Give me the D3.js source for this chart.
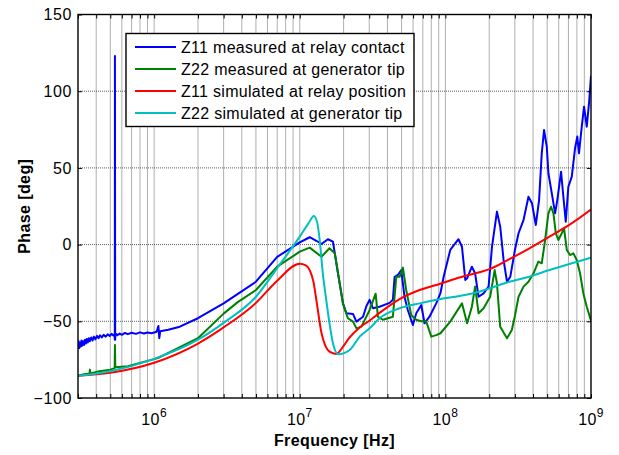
<!DOCTYPE html>
<html>
<head>
<meta charset="utf-8">
<script src="https://cdn.jsdelivr.net/npm/d3@7"></script>
<style>
  body { margin: 0; background: #fff; }
  text { font-family: "Liberation Sans", Arial, sans-serif; }
</style>
</head>
<body>
<svg id="chart" width="619" height="455"></svg>
<script>
// axis setup
const xDomain = [3e5, 1e9]
const yDomain = [-100, 150]
const yTicks = [-100, -50, 0, 50, 100, 150]
const xLabelled = [1e6, 1e7, 1e8, 1e9]

const seriesNames = [
  'Z11 measured at relay contact',
  'Z22 measured at generator tip',
  'Z11 simulated at relay position',
  'Z22 simulated at generator tip'
]
const seriesColors = ['#0000ff', '#008000', '#ff0000', '#00bfbf']

// [frequency Hz, phase deg]
const z11Measured = [
  [3.0e5, -66], [3.03e5, -63], [3.06e5, -67.5], [3.1e5, -64], [3.13e5, -66.5], [3.17e5, -62.5],
  [3.2e5, -66], [3.25e5, -63], [3.3e5, -65.5], [3.35e5, -62], [3.4e5, -64.5], [3.45e5, -61.5],
  [3.5e5, -63.8], [3.56e5, -61], [3.62e5, -63], [3.7e5, -60.5], [3.78e5, -62.5], [3.86e5, -60],
  [3.95e5, -61.8], [4.05e5, -59.5], [4.15e5, -61], [4.25e5, -59.2], [4.37e5, -60.5], [4.5e5, -58.8],
  [4.65e5, -60], [4.8e5, -58.5], [4.95e5, -59.6], [5.1e5, -58.2], [5.25e5, -59.2], [5.35e5, -58.5],
  [5.37e5, -62], [5.38e5, 123], [5.40e5, -62], [5.43e5, -58], [5.6e5, -59], [5.8e5, -58],
  [6.0e5, -58.8], [6.3e5, -57.6], [6.6e5, -58.4], [7.0e5, -57.5], [7.5e5, -58.2], [8.0e5, -57.2],
  [8.5e5, -57.9], [9.0e5, -57.3], [9.6e5, -57.8],
  [1.04e6, -56.8], [1.07e6, -53], [1.085e6, -61], [1.1e6, -56.5], [1.25e6, -55.5], [1.5e6, -53.5],
  [2e6, -48], [3e6, -38.3], [5e6, -24.2], [7e6, -8], [1e7, 1.5], [1.17e7, 4.8], [1.3e7, 2.5],
  [1.41e7, 0.4], [1.56e7, 3.5], [1.69e7, 1.9], [1.83e7, -18.7], [1.98e7, -38.3], [2.09e7, -44.8],
  [2.32e7, -45.2], [2.45e7, -50.2], [2.72e7, -47], [2.87e7, -40], [3.02e7, -36], [3.18e7, -41.5],
  [3.53e7, -40.5], [4.14e7, -38], [4.36e7, -36], [4.48e7, -21], [4.72e7, -19.8], [4.98e7, -16.6],
  [5.24e7, -34], [5.52e7, -42.6], [5.98e7, -52.4], [6.31e7, -44.8], [6.83e7, -39.4], [7.19e7, -51.3],
  [7.78e7, -47], [8.65e7, -38.3], [9.25e7, -31.7], [9.73e7, -21], [1.08e8, -3.5], [1.23e8, 3.5],
  [1.3e8, -1.4], [1.37e8, -23], [1.41e8, -22], [1.52e8, -14.4], [1.6e8, -18.7], [1.69e8, -34],
  [1.83e8, -31.8], [1.98e8, -27.4], [2.09e8, -1.4], [2.26e8, 21.5], [2.38e8, 11.7], [2.51e8, -10],
  [2.65e8, -24.2], [2.79e8, -21], [3.01e8, -3], [3.18e8, 7.4], [3.44e8, 16], [3.72e8, 31.2],
  [3.93e8, 27], [4.18e8, 12.8], [4.4e8, 29], [4.59e8, 59.5], [4.76e8, 74.7], [4.97e8, 63.8],
  [5.1e8, 46.5], [5.38e8, 33.4], [5.67e8, 20.4], [5.87e8, 29], [6.23e8, 47.5], [6.46e8, 31.2],
  [6.71e8, 14.9], [6.99e8, 37.7], [7.38e8, 44.3], [7.77e8, 62.8], [8.05e8, 70.4], [8.27e8, 59.5],
  [8.64e8, 76.9], [8.96e8, 89.9], [9.35e8, 76.9], [9.69e8, 92], [1e9, 110]
]

const z22Measured = [
  [3.0e5, -85.5], [3.3e5, -84.5], [3.6e5, -84], [3.62e5, -81.5], [3.65e5, -84], [4.2e5, -82.5],
  [5.0e5, -81.5], [5.36e5, -80.5], [5.38e5, -65.5], [5.41e5, -80], [6.6e5, -79.3], [1.06e6, -74],
  [2e6, -61], [3e6, -45], [3.75e6, -37.5], [5e6, -29.6], [7e6, -14.4], [1e7, -4.6], [1.17e7, -2],
  [1.41e7, -7.9], [1.6e7, -2.4], [1.74e7, -5.7], [1.88e7, -25.2], [1.98e7, -38.3], [2.14e7, -48],
  [2.32e7, -50.2], [2.45e7, -54.6], [2.65e7, -53.5], [3.02e7, -42.6], [3.32e7, -32], [3.44e7, -47],
  [3.72e7, -49], [4.03e7, -48], [4.36e7, -47], [4.6e7, -21], [4.85e7, -21], [5.11e7, -15],
  [5.38e7, -29.6], [5.83e7, -46], [6.31e7, -49], [6.83e7, -50], [7.38e7, -50], [8.0e7, -60],
  [8.65e7, -59], [9.25e7, -57.8], [1.08e8, -50.2], [1.3e8, -38.3], [1.41e8, -51.3], [1.52e8, -40.5],
  [1.6e8, -27.4], [1.69e8, -44.8], [1.83e8, -41.5], [2.03e8, -34], [2.18e8, -16.6], [2.26e8, -25.2],
  [2.38e8, -53.5], [2.65e8, -61], [2.86e8, -55.7], [3.01e8, -46], [3.18e8, -34], [3.44e8, -27.4],
  [3.72e8, -24.2], [4.03e8, -18.7], [4.35e8, -11.1], [4.59e8, -12.2], [4.84e8, 3], [5.1e8, 20.4],
  [5.32e8, 24.7], [5.52e8, 20.4], [5.73e8, 7.4], [5.97e8, 3], [6.3e8, 7.4], [6.53e8, 10.6],
  [6.82e8, -3.5], [7.18e8, -6.8], [7.57e8, -5.7], [7.98e8, -10], [8.41e8, -18.7], [8.86e8, -31.8],
  [9.35e8, -40.5], [1e9, -49.6]
]

const z11Simulated = [
  [3e5, -85.5], [5e5, -83.5], [1e6, -77], [2e6, -64.5], [3e6, -54], [5e6, -38], [7e6, -23.5],
  [1e7, -12.5], [1.1e7, -13.5], [1.17e7, -16.6], [1.24e7, -24], [1.3e7, -36], [1.41e7, -57.6],
  [1.5e7, -66], [1.6e7, -69.8], [1.78e7, -71.3], [2.0e7, -66], [2.2e7, -60.5], [2.58e7, -54],
  [3.02e7, -49.5], [3.53e7, -44.5], [4.85e7, -35.5], [6.65e7, -29.6], [9.25e7, -25.5],
  [1.25e8, -21.5], [1.71e8, -18], [2.01e8, -16], [2.75e8, -9.5], [3.78e8, -2.4], [5.18e8, 5.2],
  [7.1e8, 12.8], [1e9, 22.8]
]

const z22Simulated = [
  [3e5, -85.5], [5e5, -82.5], [1e6, -74.5], [2e6, -62], [3e6, -51], [5e6, -34], [7e6, -15.3],
  [1e7, 5.2], [1.15e7, 14], [1.25e7, 18.6], [1.32e7, 14], [1.37e7, 3], [1.44e7, -18.7],
  [1.52e7, -36], [1.6e7, -51.3], [1.69e7, -64.3], [1.84e7, -71.5], [2.2e7, -68.7], [2.58e7, -60],
  [3.02e7, -54.6], [3.53e7, -48], [4.85e7, -41.5], [6.65e7, -38.3], [9.25e7, -35.5],
  [1.25e8, -33.5], [1.71e8, -30.7], [2.01e8, -28.5], [2.75e8, -24.2], [3.78e8, -20.9],
  [5.18e8, -16.6], [7.1e8, -12.6], [1e9, -8.5]
]

const allSeries = [z11Measured, z22Measured, z11Simulated, z22Simulated]
const smoothSeries = [false, false, true, true]

const plotLeft = 78, plotRight = 591, plotTop = 14.5, plotBottom = 398

const svg = d3.select('#chart')

const x = d3.scaleLog().domain(xDomain).range([plotLeft, plotRight])
const y = d3.scaleLinear().domain(yDomain).range([plotBottom, plotTop])

const minorTicks = x.ticks()

// grid
const grid = svg.append('g')
  .attr('stroke', '#4d4d4d')
  .attr('stroke-width', 0.9)
  .attr('stroke-dasharray', '1,1')
grid.selectAll('.vg')
  .data(minorTicks.filter(d => d > xDomain[0] && d < xDomain[1]))
  .enter()
  .append('line')
  .attr('x1', d => x(d)).attr('x2', d => x(d))
  .attr('y1', plotTop).attr('y2', plotBottom)
grid.selectAll('.hg')
  .data(yTicks.filter(d => d > yDomain[0] && d < yDomain[1]))
  .enter()
  .append('line')
  .attr('x1', plotLeft).attr('x2', plotRight)
  .attr('y1', d => y(d)).attr('y2', d => y(d))

// curves
svg.append('clipPath').attr('id', 'clip')
  .append('rect')
  .attr('x', plotLeft).attr('y', plotTop)
  .attr('width', plotRight - plotLeft).attr('height', plotBottom - plotTop)

const plot = svg.append('g').attr('clip-path', 'url(#clip)')
allSeries.forEach((data, i) => {
  const line = d3.line()
    .x(d => x(d[0]))
    .y(d => y(d[1]))
    .curve(smoothSeries[i] ? d3.curveMonotoneX : d3.curveLinear)
  plot.append('path')
    .datum(data)
    .attr('fill', 'none')
    .attr('stroke', seriesColors[i])
    .attr('stroke-width', 2)
    .attr('stroke-linejoin', 'round')
    .attr('d', line)
})

// axes, ticks inward on all four sides
const styleAxis = (g) => {
  g.select('.domain').remove()
  g.selectAll('.tick line').attr('stroke', '#000')
}

svg.append('g')
  .attr('transform', `translate(0,${plotBottom})`)
  .call(d3.axisBottom(x).tickValues(minorTicks).tickSize(-4).tickFormat(''))
  .call(styleAxis)
svg.append('g')
  .attr('transform', `translate(0,${plotTop})`)
  .call(d3.axisTop(x).tickValues(minorTicks).tickSize(-4).tickFormat(''))
  .call(styleAxis)
svg.append('g')
  .attr('transform', `translate(${plotLeft},0)`)
  .call(d3.axisLeft(y).tickValues(yTicks).tickSize(-4).tickPadding(6))
  .call(styleAxis)
  .call(g => g.selectAll('.tick text')
    .attr('font-size', 16)
    .attr('letter-spacing', 0.6)
    .attr('fill', '#000')
    .style('font-family', '"Liberation Sans", Arial, sans-serif'))
svg.append('g')
  .attr('transform', `translate(${plotRight},0)`)
  .call(d3.axisRight(y).tickValues(yTicks).tickSize(-4).tickFormat(''))
  .call(styleAxis)

// decade labels 10^n
const xl = svg.append('g')
  .selectAll('text')
  .data(xLabelled)
  .enter()
  .append('text')
  .attr('x', d => x(d))
  .attr('y', 425)
  .attr('text-anchor', 'middle')
  .attr('font-size', 16)
  .attr('letter-spacing', 0.4)
xl.append('tspan').text('10')
xl.append('tspan')
  .attr('dy', -8)
  .attr('font-size', 12)
  .text(d => Math.round(Math.log10(d)))

// frame
svg.append('rect')
  .attr('x', plotLeft).attr('y', plotTop)
  .attr('width', plotRight - plotLeft).attr('height', plotBottom - plotTop)
  .attr('fill', 'none')
  .attr('stroke', '#000')
  .attr('stroke-width', 1.4)

// axis titles
svg.append('text')
  .attr('x', (plotLeft + plotRight) / 2)
  .attr('y', 446)
  .attr('text-anchor', 'middle')
  .attr('font-size', 16)
  .attr('font-weight', 'bold')
  .attr('letter-spacing', 0.4)
  .text('Frequency [Hz]')
svg.append('text')
  .attr('transform', `translate(30,${(plotTop + plotBottom) / 2}) rotate(-90)`)
  .attr('text-anchor', 'middle')
  .attr('font-size', 16)
  .attr('font-weight', 'bold')
  .attr('letter-spacing', 0.4)
  .text('Phase [deg]')

// legend
const legend = svg.append('g')
legend.append('rect')
  .attr('x', 126).attr('y', 33.5)
  .attr('width', 288).attr('height', 93)
  .attr('fill', '#fff')
  .attr('stroke', '#000')
  .attr('stroke-width', 1.4)
const rows = legend.selectAll('.row')
  .data(seriesNames)
  .enter()
  .append('g')
  .attr('transform', (d, i) => `translate(0,${47 + i * 22})`)
rows.append('line')
  .attr('x1', 135).attr('x2', 176)
  .attr('stroke', (d, i) => seriesColors[i])
  .attr('stroke-width', 2)
rows.append('text')
  .attr('x', 181)
  .attr('y', 5.5)
  .attr('font-size', 16)
  .attr('letter-spacing', 0.3)
  .text(d => d)
</script>
</body>
</html>
